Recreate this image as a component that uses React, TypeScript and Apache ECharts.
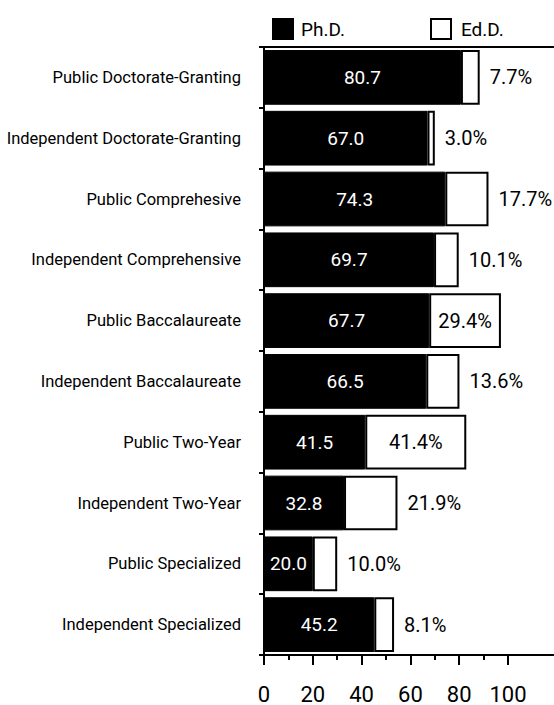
import React, { useEffect, useRef } from "react";
import * as echarts from "echarts";

const categories = [
  "Public Doctorate-Granting",
  "Independent Doctorate-Granting",
  "Public Comprehesive",
  "Independent Comprehensive",
  "Public Baccalaureate",
  "Independent Baccalaureate",
  "Public Two-Year",
  "Independent Two-Year",
  "Public Specialized",
  "Independent Specialized",
];
const phdValues = [80.7, 67.0, 74.3, 69.7, 67.7, 66.5, 41.5, 32.8, 20.0, 45.2];
const eddValues = [7.7, 3.0, 17.7, 10.1, 29.4, 13.6, 41.4, 21.9, 10.0, 8.1];
const xTickLabels = [0, 20, 40, 60, 80, 100];

const FONT = "Roboto, 'Liberation Sans', sans-serif";

export default function App() {
  const ref = useRef<HTMLDivElement>(null);
  useEffect(() => {
    if (!ref.current) return;
    const chart = echarts.init(ref.current, undefined, { renderer: "svg" });
    const W = 554;
    const H = 705;
    const gridLeft = 264;
    const gridRight = 46;
    const gridTop = 47;
    const gridBottom = 50;
    chart.setOption({
      animation: false,
      backgroundColor: "#fff",
      textStyle: { fontFamily: FONT },
      legend: [
        {
          data: ["Ph.D."],
          left: 267,
          top: 13,
          itemWidth: 20,
          itemHeight: 20,
          icon: "rect",
          textStyle: { fontSize: 19, color: "#000", fontFamily: FONT, padding: [0, 0, 0, 3] },
        },
        {
          data: ["Ed.D."],
          left: 425,
          top: 13,
          itemWidth: 20,
          itemHeight: 20,
          icon: "rect",
          textStyle: { fontSize: 19, color: "#000", fontFamily: FONT, padding: [0, 0, 0, 5] },
        },
      ],
      grid: {
        left: gridLeft,
        right: gridRight,
        top: gridTop,
        bottom: gridBottom,
        containLabel: false,
        outerBoundsMode: "none",
      },
      xAxis: {
        type: "value",
        min: 0,
        max: 100,
        interval: 20,
        axisLine: { show: true, lineStyle: { color: "#000", width: 2 } },
        axisTick: { show: true, length: 10, lineStyle: { color: "#000", width: 2 } },
        minorTick: { show: true, splitNumber: 2, length: 5, lineStyle: { color: "#000", width: 2 } },
        splitLine: { show: false },
        axisLabel: {
          margin: 28,
          fontSize: 22,
          color: "#000",
          fontFamily: FONT,
          formatter: (v: number) => (xTickLabels.indexOf(v) >= 0 ? String(v) : ""),
        },
      },
      yAxis: {
        type: "category",
        data: categories,
        inverse: true,
        axisLine: { show: true, lineStyle: { color: "#000", width: 2 } },
        axisTick: { show: true, length: 5, lineStyle: { color: "#000", width: 2 } },
        axisLabel: { margin: 23, fontSize: 16.5, color: "#000", fontFamily: FONT },
      },
      series: [
        {
          name: "Ph.D.",
          type: "bar",
          stack: "total",
          barCategoryGap: "10%",
          data: phdValues,
          itemStyle: { color: "#000", borderColor: "#000", borderWidth: 1 },
          label: {
            show: true,
            position: "inside",
            color: "#fff",
            fontSize: 19,
            fontFamily: FONT,
            formatter: (p: any) => Number(p.value).toFixed(1),
          },
        },
        {
          name: "Ed.D.",
          type: "bar",
          stack: "total",
          data: eddValues.map((v) => ({
            value: v,
            label: v > 25 ? { position: "inside" } : { position: "right" },
          })),
          itemStyle: { color: "#fff", borderColor: "#000", borderWidth: 2 },
          label: {
            show: true,
            position: "right",
            distance: 10,
            color: "#000",
            fontSize: 20,
            fontFamily: FONT,
            formatter: (p: any) => Number(p.value).toFixed(1) + "%",
          },
        },
      ],
      graphic: [
        {
          type: "line",
          shape: { x1: gridLeft - 2, y1: gridTop, x2: W, y2: gridTop },
          style: { stroke: "#000", lineWidth: 2 },
        },
        {
          type: "line",
          shape: { x1: W - gridRight, y1: H - gridBottom, x2: W, y2: H - gridBottom },
          style: { stroke: "#000", lineWidth: 2 },
        },
      ],
    });
    return () => chart.dispose();
  }, []);
  return (
    <div
      ref={ref}
      style={{ position: "fixed", left: 0, top: 0, width: 554, height: 705, background: "#fff" }}
    />
  );
}
